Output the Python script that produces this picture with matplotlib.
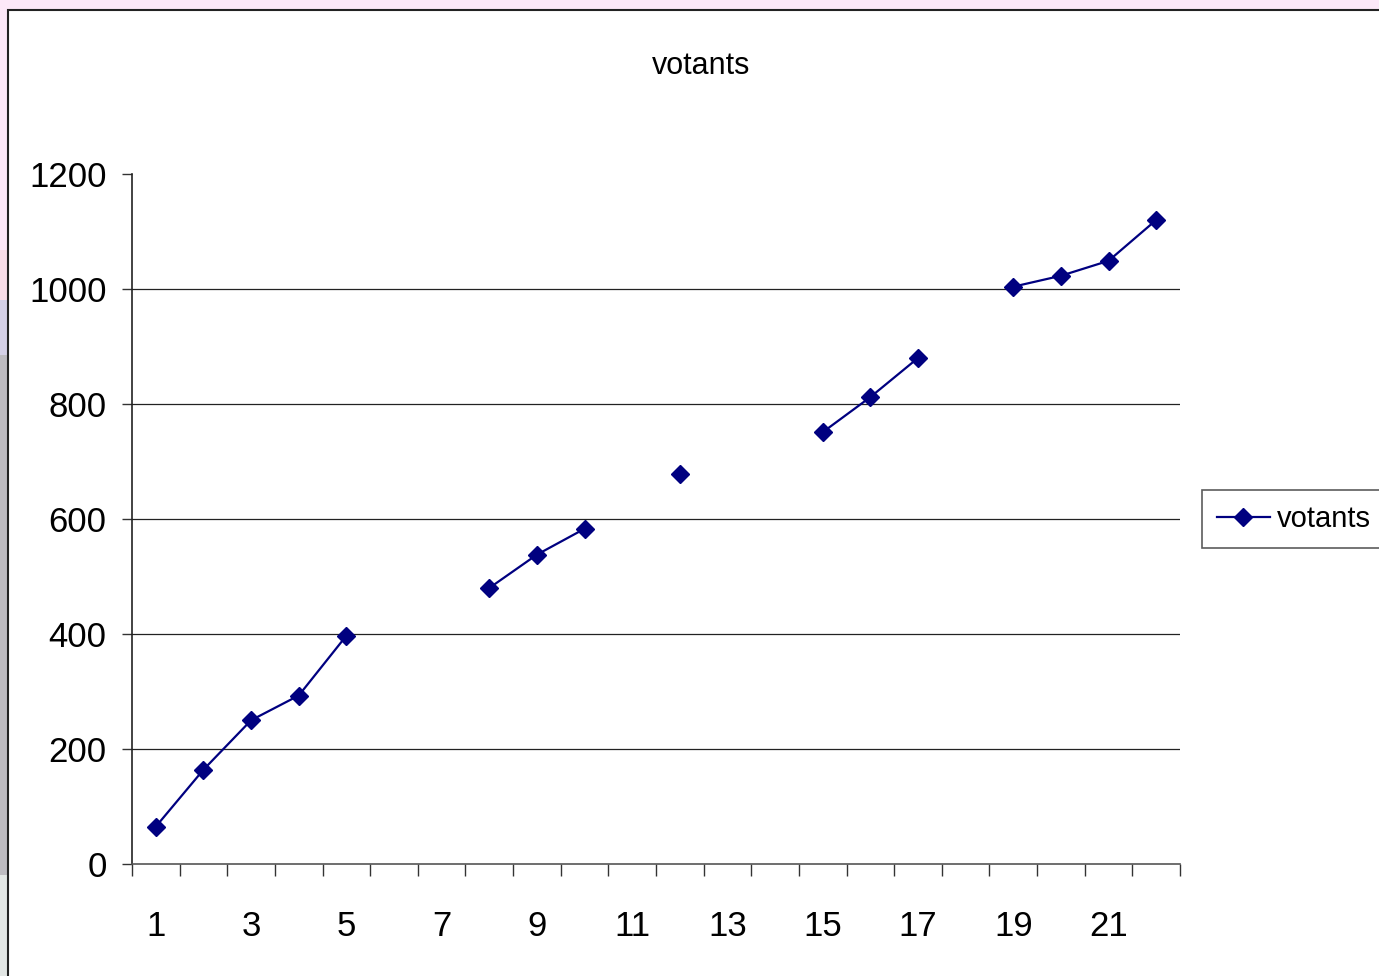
import numpy as np
import matplotlib
matplotlib.use("Agg")
import matplotlib.pyplot as plt
from matplotlib.patches import Rectangle

plt.rcParams['font.family'] = ['Liberation Sans', 'DejaVu Sans']

categories = list(range(1, 23))
votants = [65, 164, 250, 293, 397, np.nan, np.nan, 480, 538, 583, np.nan, 679,
           np.nan, np.nan, 751, 812, 880, np.nan, 1004, 1023, 1049, 1120]
yticks = [0, 200, 400, 600, 800, 1000, 1200]
xlabels = [str(c) for c in categories[::2]]

W, H = 1379, 976
fig = plt.figure(figsize=(W / 100, H / 100), dpi=100)
fig.patch.set_facecolor('#fce8f8')

# left strip background remnants (slide background)
strip = [(250, 300, '#f8dde8'), (300, 355, '#d4d0e6'), (355, 875, '#bdbbc0'), (875, 976, '#e2e6e4')]
for y0, y1, c in strip:
    fig.patches.append(Rectangle((0, 1 - y1 / H), 8 / W, (y1 - y0) / H, transform=fig.transFigure,
                                 facecolor=c, edgecolor='none', zorder=-3))

# chart area (white with border)
fig.patches.append(Rectangle((8 / W, -0.01), 1.0, 1.01 - 10 / H, transform=fig.transFigure,
                             facecolor='white', edgecolor='#222222', linewidth=1.5, zorder=-2))

ax = fig.add_axes([132 / W, (H - 864) / H, (1180 - 132) / W, (864 - 174) / H])
ax.set_facecolor('none')
ax.set_zorder(2)
line, = ax.plot(categories, votants, color='#000080', linewidth=1.6, marker='D',
                markersize=9, markerfacecolor='#000080', markeredgecolor='#000080', zorder=3)

ax.set_xlim(0.5, 22.5)
ax.set_ylim(0, 1200)
ax.set_yticks(yticks)
ax.set_yticklabels([str(v) for v in yticks])
for v in yticks[1:-1]:
    ax.axhline(v, color='#222222', linewidth=0.9, zorder=1)

ax.set_xticks(np.arange(0.5, 23.0, 1.0))
ax.set_xticklabels([])
ax.set_xticks(categories[::2], minor=True)
ax.set_xticklabels(xlabels, minor=True)
ax.tick_params(axis='x', which='major', direction='out', length=8.6, width=1, color='#333333')
ax.tick_params(axis='x', which='minor', length=0, pad=33, labelsize=25)
ax.tick_params(axis='y', direction='out', length=7.2, width=1, color='#333333', pad=11, labelsize=25)

for s in ['top', 'right']:
    ax.spines[s].set_visible(False)
ax.spines['left'].set_color('#222222')
ax.spines['bottom'].set_color('#555555')
ax.spines['left'].set_linewidth(1.2)
ax.spines['bottom'].set_linewidth(1.2)

fig.text(701 / W, 1 - 66 / H, 'votants', ha='center', va='center', fontsize=22)

leg = fig.legend([line], ['votants'], loc='center left',
                 bbox_to_anchor=(1202 / W, 1 - 519 / H), fontsize=21, frameon=True,
                 fancybox=False, edgecolor='#333333', handlelength=1.82, borderpad=0.5,
                 handletextpad=0.25, borderaxespad=0)
leg.get_frame().set_linewidth(1.2)

fig.savefig('out.png', dpi=100, facecolor=fig.get_facecolor())
